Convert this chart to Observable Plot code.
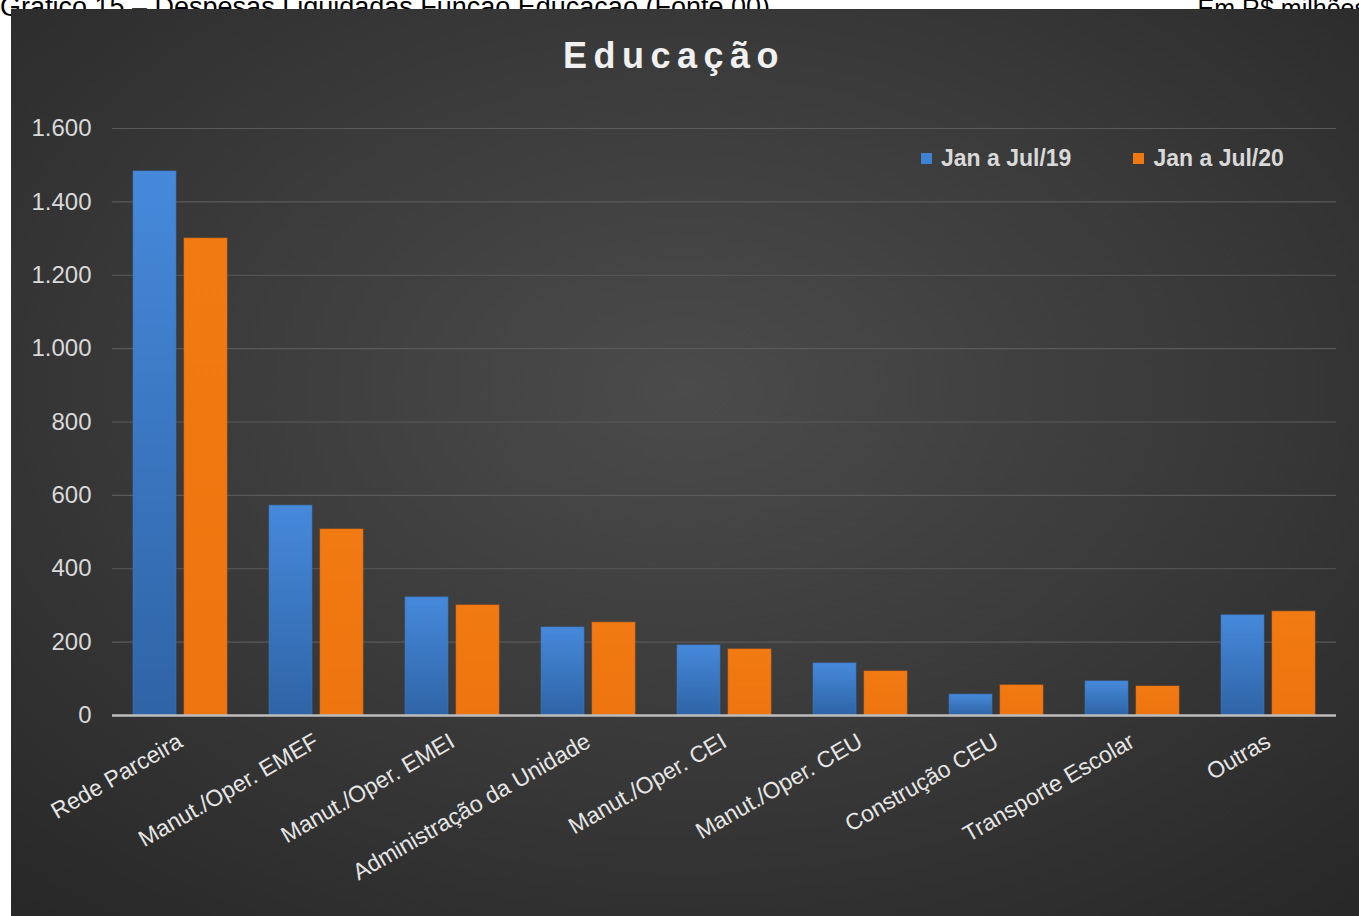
<!DOCTYPE html>
<html>
<head>
<meta charset="utf-8">
<script src="https://cdn.jsdelivr.net/npm/d3@7"></script>
<script src="https://cdn.jsdelivr.net/npm/@observablehq/plot@0.6"></script>
<style>
  html, body { margin: 0; padding: 0; background: #fff; width: 1359px; height: 916px; overflow: hidden; font-family: "Liberation Sans", Arial, sans-serif; }
  #hdr { position: absolute; left: 0; top: -8px; width: 1359px; font-size: 27px; line-height: 30px; color: #000; white-space: nowrap; }
  #hdr .r { position: absolute; right: -8px; top: 1px; font-size: 25px; }
  #panel { position: absolute; left: 11px; top: 9px; width: 1348px; height: 907px;
    background: radial-gradient(ellipse 75% 75% at 50% 42%, #4b4b4b 0%, #3c3c3c 45%, #282828 100%); }
  #title { position: absolute; left: -14px; width: 100%; top: 26px; text-align: center; font-size: 36px; font-weight: bold; color: #f0f0f0; letter-spacing: 6.5px; text-indent: 6px; }
  #legend { position: absolute; top: 136px; left: 910px; font-size: 23px; font-weight: bold; color: #d9d9d9; white-space: nowrap; }
  #legend span.item { margin-right: 62px; }
  #legend .sw { display: inline-block; width: 11px; height: 11px; margin-right: 9px; vertical-align: 2px; }
  #chart { position: absolute; left: 0; top: 81px; }
</style>
</head>
<body>
<div id="hdr"><span>Gráfico 15 – Despesas Liquidadas Função Educação (Fonte 00)</span><span class="r">Em R$ milhões</span></div>
<div id="panel">
  <div id="title">Educação</div>
  <div id="legend"></div>
  <div id="chart"></div>
</div>
<script>
const categories = ["Rede Parceira", "Manut./Oper. EMEF", "Manut./Oper. EMEI", "Administração da Unidade", "Manut./Oper. CEI", "Manut./Oper. CEU", "Construção CEU", "Transporte Escolar", "Outras"];
const series = ["Jan a Jul/19", "Jan a Jul/20"];
const values2019 = [1483, 572, 322, 240, 191, 142, 57, 93, 273];
const values2020 = [1300, 507, 300, 253, 180, 120, 82, 79, 283];
const yTicks = [0, 200, 400, 600, 800, 1000, 1200, 1400, 1600];
const seriesColors = ["#3f82d2", "#f07812"];

const data = [];
categories.forEach((c, i) => {
  data.push({category: c, series: series[0], value: values2019[i]});
  data.push({category: c, series: series[1], value: values2020[i]});
});

const ptBR = d3.formatLocale({decimal: ",", thousands: ".", grouping: [3], currency: ["R$", ""]});
const fmt = ptBR.format(",");

const W = 1348, H = 835;
const chart = Plot.plot({
  width: W,
  height: H,
  marginLeft: 99,
  marginRight: 21,
  marginTop: 38,
  marginBottom: 210,
  style: {background: "transparent", color: "#d9d9d9", fontFamily: "'Liberation Sans', Arial, sans-serif", overflow: "visible"},
  fx: {domain: categories, padding: 0, label: null, tickRotate: -30, tickSize: 0, tickPadding: 24},
  x: {domain: series, axis: null, paddingInner: 0.154, paddingOuter: 0.385},
  y: {domain: [0, 1600], ticks: yTicks, tickFormat: fmt, label: null, tickSize: 0, tickPadding: 21},
  color: {domain: series, range: ["url(#gBlue)", "url(#gOrange)"]},
  marks: [
    Plot.gridY(yTicks, {stroke: "#5a5a5a", strokeOpacity: 1, strokeWidth: 1.2}),
    Plot.barY(data, {fx: "category", x: "series", y: "value", fill: "series", stroke: d => d.series === series[0] ? "#3a74bd" : "#e06c10", strokeWidth: 1, strokeOpacity: 0.6}),
    Plot.ruleY([0], {stroke: "#bdbdbd", strokeWidth: 2.5})
  ]
});

// gradients for bar fills
const svg = d3.select(chart);
const defs = svg.insert("defs", ":first-child");
const gb = defs.append("linearGradient").attr("id", "gBlue").attr("x1", 0).attr("y1", 0).attr("x2", 0).attr("y2", 1);
gb.append("stop").attr("offset", "0%").attr("stop-color", "#4689db");
gb.append("stop").attr("offset", "100%").attr("stop-color", "#2f64a6");
const go = defs.append("linearGradient").attr("id", "gOrange").attr("x1", 0).attr("y1", 0).attr("x2", 0).attr("y2", 1);
go.append("stop").attr("offset", "0%").attr("stop-color", "#f27a12");
go.append("stop").attr("offset", "100%").attr("stop-color", "#ee740f");

svg.selectAll("[aria-label='y-axis tick label']").style("font-size", "24px").attr("fill", "#d9d9d9");
svg.selectAll("[aria-label='fx-axis tick label']").style("font-size", "23px").attr("fill", "#e6e6e6").attr("dx", -6);

document.getElementById("chart").appendChild(chart);

const legend = document.getElementById("legend");
series.forEach((s, i) => {
  const it = document.createElement("span");
  it.className = "item";
  it.innerHTML = `<span class="sw" style="background:${seriesColors[i]}"></span>${s}`;
  legend.appendChild(it);
});
</script>
</body>
</html>
